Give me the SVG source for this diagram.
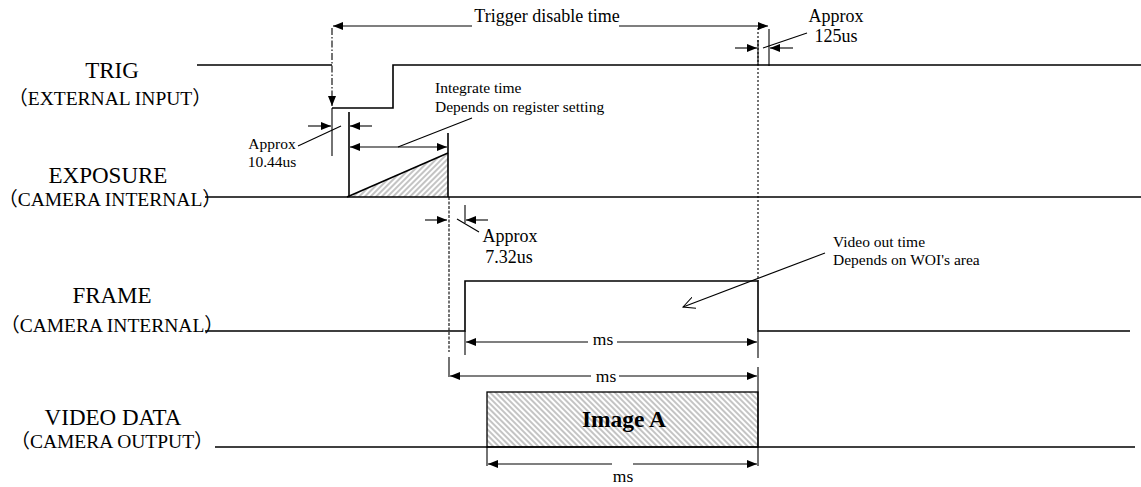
<svg xmlns="http://www.w3.org/2000/svg" width="1141" height="487" viewBox="0 0 1141 487">
<style>
.sig{fill:none;stroke:#000;stroke-width:1.6}
.dim{fill:none;stroke:#000;stroke-width:1.1}
.lbl{font-family:"Liberation Serif","Noto Sans CJK SC",serif;font-size:23px;fill:#000;text-anchor:middle}
.sub{font-family:"Liberation Serif","Noto Sans CJK SC",serif;font-size:19.5px;fill:#000;text-anchor:middle}
.t{font-family:"Liberation Serif",serif;font-size:18px;fill:#000}
.s{font-family:"Liberation Serif",serif;font-size:15.5px;fill:#000}
.m{font-family:"Liberation Serif",serif;font-size:17.5px;fill:#000;text-anchor:middle}
</style>
<defs>
<marker id="ah" markerUnits="userSpaceOnUse" markerWidth="11" markerHeight="8" refX="10" refY="4" orient="auto-start-reverse"><path d="M0,0 L10,4 L0,8 z" fill="#000"/></marker>
<marker id="oa" markerUnits="userSpaceOnUse" markerWidth="14" markerHeight="12" refX="12" refY="6" orient="auto"><path d="M0,0 L12,6 L0,12" fill="none" stroke="#000" stroke-width="1"/></marker>
<pattern id="h1" patternUnits="userSpaceOnUse" width="4" height="4" patternTransform="rotate(45)"><rect width="4" height="4" fill="#fff"/><rect width="2" height="4" fill="#c4c4c4"/></pattern>
<pattern id="h2" patternUnits="userSpaceOnUse" width="4" height="4" patternTransform="rotate(-45)"><rect width="4" height="4" fill="#fff"/><rect width="2" height="4" fill="#c4c4c4"/></pattern>
</defs>

<g id="trig">
<text class="lbl" x="112" y="78">TRIG</text>
<text class="sub" x="110" y="105">（EXTERNAL INPUT）</text>
<path class="sig" d="M197,65 H332 M332,108 H393 V65 H1141"/>
</g>

<g id="exposure">
<text class="lbl" x="108" y="183">EXPOSURE</text>
<text class="sub" x="110" y="206">（CAMERA INTERNAL）</text>
<polygon points="347,197 448,153 448,197" fill="url(#h1)"/>
<path class="sig" d="M205,197 H1141"/>
<path class="sig" d="M347,197 L448,153"/>
<path class="sig" d="M448,133 V197"/>
<path class="sig" d="M349,112 V197"/>
</g>

<g id="frame">
<text class="lbl" x="112" y="303">FRAME</text>
<text class="sub" x="112" y="332">（CAMERA INTERNAL）</text>
<path class="sig" d="M205,331 H465 V281 H758 V331 H1130"/>
</g>

<g id="video">
<text class="lbl" x="113" y="425">VIDEO DATA</text>
<text class="sub" x="112" y="448">（CAMERA OUTPUT）</text>
<rect x="487" y="392" width="271" height="55" fill="url(#h2)" stroke="#000" stroke-width="1.3"/>
<path class="sig" d="M215,447 H1135"/>
<text x="624" y="427" font-family="Liberation Serif,serif" font-size="23.5" font-weight="bold" text-anchor="middle">Image A</text>
</g>

<g id="connectors">
<path class="dim" d="M332,28 V106" stroke-dasharray="7,2,1.5,2" marker-end="url(#ah)"/>
<path class="dim" d="M332,108 V156"/>
<path class="dim" d="M472,26 H333" marker-end="url(#ah)"/>
<path class="dim" d="M619,26 H768" marker-end="url(#ah)"/>
<text class="t" x="547" y="22" text-anchor="middle">Trigger disable time</text>
<path class="dim" d="M758,28 V281" stroke-dasharray="2,2"/>
<path class="dim" d="M758,40 V65"/>
<path class="dim" d="M769,29 V66"/>
<path class="dim" d="M735,48 H757" marker-end="url(#ah)"/>
<path class="dim" d="M793,48 H770" marker-end="url(#ah)"/>
<path class="dim" d="M763,48 L807,33"/>
<text class="t" x="836" y="22" text-anchor="middle">Approx</text>
<text class="t" x="836" y="42" text-anchor="middle">125us</text>
<path class="dim" d="M308,126 H331" marker-end="url(#ah)"/>
<path class="dim" d="M372,126 H350" marker-end="url(#ah)"/>
<path class="dim" d="M298,146 L341,126"/>
<text class="s" x="272" y="149" text-anchor="middle">Approx</text>
<text class="s" x="272" y="167" text-anchor="middle">10.44us</text>
<path class="dim" d="M350,147 H447" marker-start="url(#ah)" marker-end="url(#ah)"/>
<path class="dim" d="M398,147 L472,118"/>
<text class="s" x="435" y="93">Integrate time</text>
<text class="s" x="435" y="112">Depends on register setting</text>
<path class="dim" d="M449,197 V352" stroke-dasharray="3,1.5" stroke-width="0.9"/>
<path class="dim" d="M449,357 V377"/>
<path class="dim" d="M425,220 H447" marker-end="url(#ah)"/>
<path class="dim" d="M488,220 H466" marker-end="url(#ah)"/>
<path class="dim" d="M465,205 V223"/>
<path class="dim" d="M457,219 L479,232"/>
<text class="t" x="510" y="242" text-anchor="middle">Approx</text>
<text class="t" x="509" y="263" text-anchor="middle">7.32us</text>
<path class="dim" d="M465,331 V355"/>
<path class="dim" d="M758,331 V358"/>
<path class="dim" d="M758,367 V466"/>
<path class="dim" d="M588,342 H466" marker-end="url(#ah)"/>
<path class="dim" d="M617,342 H757" marker-end="url(#ah)"/>
<text class="m" x="603" y="345">ms</text>
<path class="dim" d="M591,376 H450" marker-end="url(#ah)"/>
<path class="dim" d="M619,376 H757" marker-end="url(#ah)"/>
<text class="m" x="606" y="382">ms</text>
<path class="dim" d="M487,447 V466"/>
<path class="dim" d="M612,464 H488" marker-end="url(#ah)"/>
<path class="dim" d="M633,464 H757" marker-end="url(#ah)"/>
<text class="m" x="623" y="482">ms</text>
<path class="dim" d="M825,253 L683,307" marker-end="url(#oa)"/>
<text class="s" x="833" y="247">Video out time</text>
<text class="s" x="833" y="265">Depends on WOI's area</text>
</g>
</svg>
